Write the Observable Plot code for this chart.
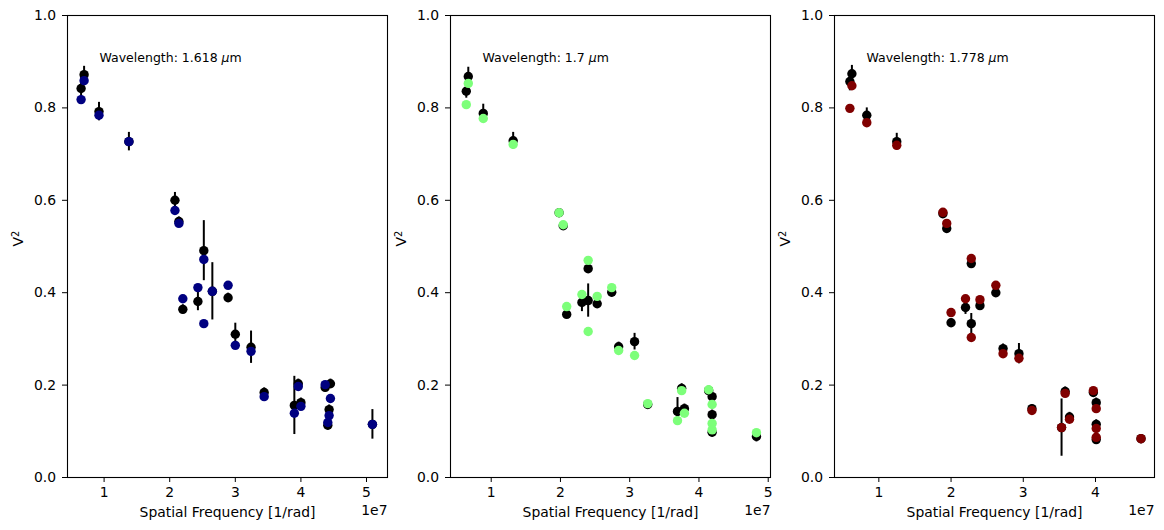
<!DOCTYPE html>
<html><head><meta charset="utf-8">
<script src="https://cdn.jsdelivr.net/npm/d3@7"></script>
<script src="https://cdn.jsdelivr.net/npm/@observablehq/plot@0.6"></script>
<style>
body{margin:0;background:#fff;}
#fig{position:relative;width:1164px;height:530px;overflow:hidden;background:#fff;}
#fig svg{position:absolute;top:0;}
</style></head><body><div id="fig"></div>
<script>
// Spatial frequency in units of 1e7 rad^-1
const wavelengths = ["1.618", "1.7", "1.778"];
const modelColors = ["#000080", "#7dff7a", "#800000"];
const yTicks = [0, 0.2, 0.4, 0.6, 0.8, 1.0];
const xTicks = [1, 2, 3, 4, 5];
const xLabel = "Spatial Frequency [1/rad]";
const yLabel = "V²";
const offsetLabel = "1e7";

// Panel 1 (1.618 µm)
const obs1X = [0.649,0.695,0.922,1.378,2.08,2.14,2.20,2.43,2.52,2.65,2.89,3.00,3.24,3.44,3.90,3.96,4.00,4.37,4.45,4.43,4.41,5.09];
const obs1V = [0.842,0.872,0.792,0.727,0.600,0.554,0.364,0.381,0.491,0.403,0.389,0.310,0.282,0.184,0.156,0.203,0.162,0.195,0.203,0.147,0.113,0.115];
const obs1E = [0.030,0.018,0.020,0.020,0.017,0.010,0.010,0.020,0.065,0.062,0.010,0.024,0.035,0.010,0.063,0.010,0.010,0.010,0.010,0.010,0.010,0.032];
const mod1X = [0.649,0.695,0.922,1.378,2.08,2.14,2.20,2.43,2.52,2.52,2.65,2.89,3.00,3.24,3.44,3.90,3.96,4.00,4.37,4.45,4.43,4.41,5.09];
const mod1V = [0.818,0.859,0.784,0.727,0.578,0.550,0.387,0.411,0.472,0.333,0.403,0.416,0.286,0.273,0.175,0.139,0.197,0.154,0.201,0.171,0.134,0.119,0.115];

// Panel 2 (1.7 µm)
const obs2X = [0.669,0.640,0.885,1.317,1.98,2.04,2.09,2.31,2.40,2.40,2.53,2.74,2.84,3.07,3.26,3.69,3.75,3.79,4.14,4.19,4.19,4.19,4.83];
const obs2V = [0.868,0.836,0.788,0.729,0.573,0.545,0.353,0.379,0.452,0.383,0.376,0.401,0.283,0.294,0.158,0.143,0.193,0.149,0.188,0.175,0.136,0.098,0.089];
const obs2E = [0.020,0.015,0.020,0.018,0.008,0.008,0.008,0.020,0.010,0.036,0.010,0.010,0.010,0.018,0.008,0.030,0.010,0.010,0.010,0.010,0.010,0.010,0.012];
const mod2X = [0.669,0.640,0.885,1.317,1.98,2.04,2.09,2.31,2.40,2.40,2.53,2.74,2.84,3.07,3.26,3.69,3.75,3.79,4.14,4.19,4.19,4.19,4.83];
const mod2V = [0.853,0.807,0.777,0.721,0.573,0.547,0.370,0.396,0.470,0.316,0.392,0.411,0.275,0.264,0.160,0.123,0.188,0.139,0.190,0.158,0.117,0.103,0.097];

// Panel 3 (1.778 µm)
const obs3X = [0.627,0.599,0.833,1.248,1.887,1.94,2.00,2.20,2.28,2.28,2.40,2.62,2.72,2.94,3.12,3.53,3.58,3.64,3.97,4.01,4.01,4.01,4.63];
const obs3V = [0.874,0.857,0.784,0.727,0.571,0.539,0.335,0.368,0.463,0.333,0.372,0.400,0.279,0.268,0.149,0.108,0.186,0.131,0.184,0.162,0.115,0.082,0.084];
const obs3E = [0.018,0.020,0.016,0.018,0.008,0.008,0.008,0.015,0.010,0.022,0.010,0.010,0.010,0.022,0.008,0.062,0.010,0.010,0.010,0.010,0.010,0.010,0.008];
const mod3X = [0.627,0.599,0.833,1.248,1.887,1.94,2.00,2.20,2.28,2.28,2.40,2.62,2.72,2.94,3.12,3.53,3.58,3.64,3.97,4.01,4.01,4.01,4.63];
const mod3V = [0.848,0.799,0.768,0.719,0.574,0.550,0.357,0.387,0.474,0.303,0.385,0.416,0.268,0.258,0.145,0.108,0.182,0.126,0.188,0.149,0.106,0.087,0.084];

const panels = [
  {obsX: obs1X, obsV: obs1V, obsE: obs1E, modX: mod1X, modV: mod1V, domain: [0.442, 5.32], left: 0, width: 400},
  {obsX: obs2X, obsV: obs2V, obsE: obs2E, modX: mod2X, modV: mod2V, domain: [0.412, 5.033], left: 383, width: 400},
  {obsX: obs3X, obsV: obs3V, obsE: obs3E, modX: mod3X, modV: mod3V, domain: [0.386, 4.817], left: 767, width: 397}
];

const fig = document.getElementById("fig");
panels.forEach((p, i) => {
  const obs = p.obsX.map((x, j) => ({x, v: p.obsV[j], e: p.obsE[j]}));
  const mod = p.modX.map((x, j) => ({x, v: p.modV[j]}));
  const ticks = xTicks.filter(t => t >= p.domain[0] && t <= p.domain[1]);
  const svg = Plot.plot({
    width: p.width, height: 530,
    marginLeft: 67, marginRight: p.width - 67 - 320, marginTop: 15, marginBottom: 53,
    style: {fontFamily: "DejaVu Sans", fontSize: "13.9px", color: "black", background: "transparent", overflow: "visible"},
    x: {domain: p.domain},
    y: {domain: [0, 1]},
    marks: [
      Plot.ruleX(obs, {x: "x", y1: d => d.v - d.e, y2: d => d.v + d.e, stroke: "black", strokeWidth: 2}),
      Plot.dot(obs, {x: "x", y: "v", r: 4.7, fill: "black"}),
      Plot.dot(mod, {x: "x", y: "v", r: 4.7, fill: modelColors[i]}),
      Plot.frame({stroke: "black", strokeWidth: 1.1}),
      Plot.axisX(ticks, {tickSize: 5, tickPadding: 5, tickFormat: d => String(d), label: null}),
      Plot.axisY(yTicks, {tickSize: 5, tickPadding: 6.5, tickFormat: d3.format(".1f"), label: null}),
      Plot.text([xLabel], {text: d => d, frameAnchor: "bottom", lineAnchor: "top", dy: 30, fontSize: 13.9, fill: "black"}),
      Plot.text([offsetLabel], {text: d => d, frameAnchor: "bottom-right", textAnchor: "end", lineAnchor: "top", dy: 28, fontSize: 13.9, fill: "black"}),
      Plot.text([yLabel], {text: d => d, frameAnchor: "left", rotate: -90, dx: -49, fontSize: 13.9, fill: "black"}),
      Plot.text(["Wavelength: " + wavelengths[i] + " μm"], {text: d => d, frameAnchor: "top-left", textAnchor: "start", lineAnchor: "top", dx: 32, dy: 38, fontSize: 12.5, fill: "black"})
    ]
  });
  svg.style.left = p.left + "px";
  d3.select(svg).selectAll("text").each(function() {
    const t = this.textContent;
    const sel = d3.select(this);
    if (t.startsWith("Wavelength")) {
      // italic mu as in matplotlib mathtext
      sel.text(null);
      sel.append("tspan").text("Wavelength: " + wavelengths[i] + " ");
      sel.append("tspan").attr("font-style", "italic").text("μ");
      sel.append("tspan").text("m");
    } else if (t === yLabel) {
      // V with a raised, smaller 2
      sel.text(null);
      sel.append("tspan").text("V");
      sel.append("tspan").attr("font-size", "9.7px").attr("dy", "-0.45em").text("2");
    }
  });
  fig.appendChild(svg);
});
</script>
</body></html>
